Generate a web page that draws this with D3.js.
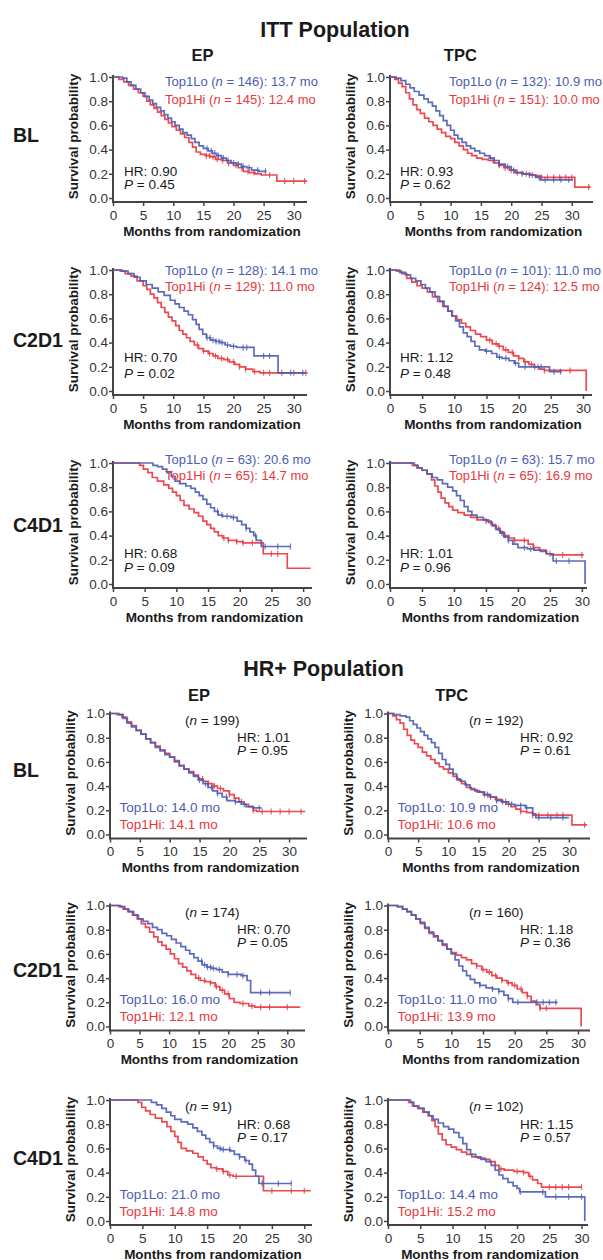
<!DOCTYPE html>
<html>
<head>
<meta charset="utf-8">
<script src="https://cdn.jsdelivr.net/npm/d3@7"></script>
<style>
  body { margin: 0; background: #fff; }
  svg { display: block; font-family: "Liberation Sans", Arial, sans-serif; }
</style>
</head>
<body>
<script>
// ---- labels ----
const populations = ['ITT Population', 'HR+ Population'];
const arms = ['EP', 'TPC'];
const timepoints = ['BL', 'C2D1', 'C4D1'];
const xTicks = [0, 5, 10, 15, 20, 25, 30];
const yTicks = [0, 0.2, 0.4, 0.6, 0.8, 1.0];

// ITT stats, order: BL EP, BL TPC, C2D1 EP, C2D1 TPC, C4D1 EP, C4D1 TPC
const ittLoN = [146, 132, 128, 101, 63, 63];
const ittHiN = [145, 151, 129, 124, 65, 65];
const ittLoMed = ['13.7', '10.9', '14.1', '11.0', '20.6', '15.7'];
const ittHiMed = ['12.4', '10.0', '11.0', '12.5', '14.7', '16.9'];
const ittHR = ['0.90', '0.93', '0.70', '1.12', '0.68', '1.01'];
const ittP = ['0.45', '0.62', '0.02', '0.48', '0.09', '0.96'];

// HR+ stats, same order
const hrN = [199, 192, 174, 160, 91, 102];
const hrLoMed = ['14.0', '10.9', '16.0', '11.0', '21.0', '14.4'];
const hrHiMed = ['14.1', '10.6', '12.1', '13.9', '14.8', '15.2'];
const hrHR = ['1.01', '0.92', '0.70', '1.18', '0.68', '1.15'];
const hrP = ['0.95', '0.61', '0.05', '0.36', '0.17', '0.57'];

// ---- KM curves [month, survival] ----
const ittBlEpLo = [[0,1],[1.6,0.99],[2.3,0.96],[3,0.93],[3.8,0.9],[4.6,0.87],[5.3,0.84],[6,0.81],[6.6,0.78],[7.2,0.75],[7.9,0.72],[8.5,0.69],[9.1,0.66],[9.7,0.63],[10.3,0.6],[11,0.57],[11.6,0.54],[12.3,0.52],[13,0.49],[13.6,0.46],[14.3,0.43],[15,0.41],[15.8,0.39],[16.5,0.37],[17.2,0.35],[18,0.33],[18.8,0.31],[19.6,0.29],[20.5,0.28],[21.3,0.26],[22.2,0.25],[23,0.23],[24.2,0.22],[25.5,0.22]];
const ittBlEpLoCens = [15.6,16.3,16.9,17.5,18.3,19.1,20,20.8,21.6,22.6,24,25.3];
const ittBlEpHi = [[0,1],[1,0.98],[1.8,0.96],[2.6,0.93],[3.4,0.9],[4.2,0.87],[5,0.84],[5.6,0.8],[6.2,0.77],[6.8,0.74],[7.4,0.71],[8,0.68],[8.6,0.65],[9.2,0.62],[9.8,0.59],[10.5,0.56],[11.2,0.53],[11.9,0.5],[12.6,0.46],[13.2,0.42],[13.8,0.38],[14.5,0.36],[15.3,0.35],[16.2,0.34],[17,0.32],[18,0.31],[19,0.29],[20,0.27],[20.8,0.25],[21.6,0.22],[22.6,0.21],[23.6,0.2],[24.6,0.19],[27.2,0.14],[32.2,0.14]];
const ittBlEpHiCens = [15.5,16,16.6,17.3,18.2,19.2,20.4,21.4,22.4,23.4,26,28.5,30,31.8];

const ittBlTpcLo = [[0,1],[1,0.99],[1.8,0.97],[2.6,0.94],[3.3,0.91],[4,0.88],[4.8,0.85],[5.6,0.82],[6.3,0.79],[7,0.76],[7.6,0.72],[8.2,0.68],[8.8,0.64],[9.4,0.6],[10,0.56],[10.6,0.52],[11.2,0.49],[11.9,0.46],[12.6,0.43],[13.3,0.41],[14,0.39],[14.8,0.37],[15.6,0.35],[16.4,0.33],[17.2,0.31],[18,0.28],[19,0.26],[20,0.23],[20.8,0.21],[21.8,0.2],[23,0.19],[24,0.17],[24.8,0.15],[30.2,0.15]];
const ittBlTpcLoCens = [16.6,17.2,18,19.4,20.4,21.8,23,24.6,25.6,27,28.2,29.5];
const ittBlTpcHi = [[0,1],[0.8,0.98],[1.4,0.95],[2,0.92],[2.6,0.87],[3.2,0.82],[3.8,0.77],[4.4,0.73],[5,0.7],[5.7,0.66],[6.4,0.63],[7.1,0.6],[7.8,0.57],[8.5,0.54],[9.2,0.51],[10,0.49],[10.7,0.46],[11.4,0.43],[12.1,0.4],[12.8,0.37],[13.5,0.35],[14.3,0.33],[15.2,0.32],[16.2,0.31],[17.2,0.29],[18,0.27],[18.8,0.25],[19.7,0.23],[20.5,0.21],[22,0.2],[23.2,0.19],[24.2,0.18],[25,0.17],[30.5,0.09],[33.1,0.09]];
const ittBlTpcHiCens = [17,18,19,20,21,22.5,23.5,25,26,27,28,29,30,32.8];

const ittC2EpLo = [[0,1],[1.5,0.99],[2.5,0.97],[3.5,0.94],[4.5,0.91],[5.5,0.88],[6.5,0.85],[7.5,0.82],[8.5,0.79],[9.5,0.75],[10.3,0.72],[11,0.69],[11.8,0.66],[12.5,0.63],[13.2,0.59],[13.8,0.55],[14.3,0.51],[14.9,0.47],[15.5,0.44],[16.2,0.42],[17,0.41],[17.8,0.4],[18.6,0.38],[19.5,0.37],[20.5,0.36],[23.4,0.29],[27.4,0.15],[32,0.15]];
const ittC2EpLoCens = [15.6,16.1,16.6,17.1,17.6,18.1,19,20,21.6,22.2,25,26,29.5,31.5];
const ittC2EpHi = [[0,1],[1.2,0.99],[2,0.97],[3,0.95],[4,0.91],[5,0.87],[5.6,0.84],[6.2,0.8],[6.8,0.77],[7.4,0.73],[8,0.69],[8.6,0.65],[9.2,0.61],[9.8,0.58],[10.4,0.54],[11,0.5],[11.6,0.47],[12.2,0.44],[12.8,0.41],[13.5,0.38],[14.2,0.35],[15,0.33],[15.8,0.31],[16.6,0.29],[17.4,0.27],[18.4,0.26],[19.3,0.24],[20.2,0.22],[21,0.2],[22,0.18],[23.2,0.16],[24.4,0.15],[32.3,0.15]];
const ittC2EpHiCens = [14,15,16,17,18,19,20,21,22,23.5,25,26,28,30,32];

const ittC2TpcLo = [[0,1],[1.5,0.98],[2.4,0.96],[3.2,0.93],[4,0.91],[4.8,0.88],[5.5,0.85],[6.2,0.82],[7,0.78],[7.7,0.74],[8.4,0.7],[9,0.66],[9.6,0.62],[10.2,0.58],[10.8,0.53],[11.4,0.48],[12,0.45],[12.6,0.41],[13.2,0.37],[13.9,0.34],[14.8,0.33],[15.8,0.31],[16.6,0.28],[17.4,0.27],[18.5,0.25],[19.3,0.23],[20,0.2],[24.8,0.16],[26.7,0.16]];
const ittC2TpcLoCens = [15,17,18,19.5,21,22.5,23.5,25.5,26.5];
const ittC2TpcHi = [[0,1],[1,0.99],[1.8,0.97],[2.6,0.93],[3.4,0.9],[4.2,0.87],[5,0.85],[5.8,0.82],[6.6,0.78],[7.4,0.74],[8.2,0.7],[9,0.66],[9.7,0.62],[10.4,0.59],[11.1,0.56],[11.8,0.53],[12.5,0.5],[13.3,0.47],[14.1,0.45],[15,0.42],[15.9,0.39],[16.8,0.37],[17.6,0.34],[18.4,0.32],[19.2,0.29],[20,0.27],[20.8,0.24],[21.6,0.22],[22.4,0.2],[23.2,0.18],[24,0.17],[30.5,0]];
const ittC2TpcHiCens = [15.5,16.5,17,18,19,20,21,22,23,24,28];

const ittC4EpLo = [[0,1],[6.3,0.98],[7,0.97],[7.8,0.95],[8.5,0.92],[9.2,0.89],[9.8,0.85],[10.5,0.83],[11.5,0.81],[12.3,0.79],[13,0.76],[13.6,0.73],[14.2,0.7],[14.8,0.66],[15.4,0.63],[16,0.6],[16.6,0.57],[17.3,0.56],[18.6,0.55],[19.6,0.52],[20.3,0.49],[21,0.46],[21.6,0.43],[22.2,0.4],[22.6,0.36],[23.4,0.31],[28,0.31]];
const ittC4EpLoCens = [16.5,17.2,18,19,21,22.5,24,26,28];
const ittC4EpHi = [[0,1],[4.2,0.98],[4.8,0.95],[5.5,0.92],[6.2,0.88],[7,0.85],[8,0.82],[8.8,0.79],[9.4,0.76],[10,0.73],[10.6,0.69],[11.2,0.65],[12,0.62],[12.8,0.59],[13.5,0.56],[14.2,0.52],[14.8,0.49],[15.4,0.46],[16,0.43],[16.6,0.4],[17.3,0.38],[18.2,0.36],[19.5,0.35],[20.5,0.34],[23.7,0.25],[27.5,0.13],[31.2,0.13]];
const ittC4EpHiCens = [17.5,18.2,19.5,20.5,22,25,26];

const ittC4TpcLo = [[0,1],[3.8,0.98],[4.4,0.96],[5,0.94],[5.8,0.91],[6.6,0.88],[7.4,0.86],[8.2,0.83],[9,0.8],[9.8,0.77],[10.4,0.73],[11,0.69],[11.6,0.64],[12.2,0.6],[12.8,0.57],[13.6,0.55],[14.6,0.53],[15.4,0.51],[16,0.48],[16.6,0.45],[17.2,0.42],[17.8,0.39],[18.5,0.36],[19.2,0.33],[20,0.3],[21.5,0.29],[22.5,0.28],[23.5,0.27],[24.5,0.25],[25.5,0.19],[30.5,0]];
const ittC4TpcLoCens = [17.5,18.5,21,22,26,28];
const ittC4TpcHi = [[0,1],[3.5,0.98],[4.2,0.96],[5,0.94],[5.8,0.91],[6.5,0.86],[7,0.81],[7.5,0.76],[8,0.71],[8.6,0.67],[9.2,0.64],[9.8,0.61],[10.6,0.59],[11.6,0.57],[12.6,0.55],[13.6,0.53],[15,0.52],[15.8,0.49],[16.5,0.46],[17.2,0.43],[17.8,0.4],[18.6,0.38],[19.4,0.36],[21.6,0.33],[22.4,0.3],[23.4,0.28],[24.4,0.25],[25.2,0.24],[30.3,0.24]];
const ittC4TpcHiCens = [15,17,18,19.5,21,22.5,25,27,30];

const hrBlEpLo = [[0,1],[1.5,0.99],[2.2,0.96],[2.9,0.92],[3.6,0.89],[4.4,0.86],[5.2,0.83],[6,0.79],[6.8,0.76],[7.6,0.72],[8.4,0.69],[9.2,0.66],[10,0.64],[10.8,0.61],[11.6,0.57],[12.4,0.54],[13.2,0.51],[14,0.48],[14.8,0.45],[15.6,0.42],[16.4,0.39],[17.2,0.36],[18,0.34],[18.8,0.31],[19.6,0.28],[21,0.27],[22,0.25],[22.8,0.23],[24,0.22],[25.4,0.22]];
const hrBlEpLoCens = [15,16,17,18,19.5,21,22.5,25];
const hrBlEpHi = [[0,1],[1.2,0.99],[2,0.97],[2.8,0.93],[3.6,0.9],[4.4,0.86],[5.2,0.83],[6,0.79],[6.8,0.76],[7.6,0.73],[8.4,0.7],[9.2,0.67],[10,0.64],[10.8,0.6],[11.6,0.57],[12.4,0.54],[13.2,0.52],[14,0.49],[14.8,0.46],[15.6,0.44],[16.4,0.42],[17.2,0.4],[18,0.38],[19,0.36],[20,0.33],[20.8,0.3],[21.6,0.27],[22.4,0.25],[23.2,0.23],[24,0.2],[24.6,0.19],[32.7,0.19]];
const hrBlEpHiCens = [15.5,16.5,17.5,18.5,20,22,24,25.5,27,28.5,30,32];

const hrBlTpcLo = [[0,1],[1,0.99],[2,0.98],[3,0.97],[3.6,0.94],[4.2,0.91],[4.8,0.88],[5.4,0.85],[6,0.82],[6.6,0.79],[7.2,0.76],[7.8,0.72],[8.4,0.67],[9,0.62],[9.6,0.58],[10.2,0.54],[10.8,0.5],[11.4,0.46],[12,0.44],[12.8,0.41],[13.6,0.38],[14.4,0.36],[15.2,0.35],[16,0.33],[17,0.31],[18,0.28],[19,0.27],[20,0.25],[21,0.24],[22.8,0.22],[24,0.17],[24.5,0.14],[30,0.14]];
const hrBlTpcLoCens = [16.5,18,19.5,20.5,22,23,25,27,29];
const hrBlTpcHi = [[0,1],[0.8,0.98],[1.4,0.95],[2,0.92],[2.6,0.87],[3.2,0.82],[3.8,0.78],[4.4,0.75],[5,0.72],[5.7,0.68],[6.4,0.65],[7.1,0.62],[7.8,0.59],[8.5,0.56],[9.2,0.54],[10,0.51],[10.8,0.48],[11.5,0.45],[12.2,0.42],[13,0.39],[13.8,0.37],[14.8,0.35],[15.8,0.33],[16.8,0.31],[17.8,0.29],[18.8,0.27],[19.6,0.25],[20.4,0.23],[21.2,0.21],[22,0.19],[23,0.18],[24,0.16],[30.5,0.08],[33,0.08]];
const hrBlTpcHiCens = [16,17,18,19,20,22,24,25,26.5,28,29,32.6];

const hrC2EpLo = [[0,1],[1.8,0.99],[2.5,0.97],[3.2,0.95],[4,0.92],[4.8,0.89],[5.6,0.87],[6.4,0.85],[7.2,0.82],[8,0.8],[8.8,0.77],[9.6,0.75],[10.4,0.72],[11.2,0.69],[12,0.66],[12.8,0.63],[13.5,0.6],[14.2,0.57],[14.9,0.54],[15.6,0.51],[16.4,0.49],[17.2,0.48],[18,0.47],[19,0.45],[20,0.43],[22.2,0.42],[23.2,0.38],[23.8,0.28],[30.5,0.28]];
const hrC2EpLoCens = [15.5,16,16.5,17,17.5,18.5,20,21.5,22.5,25.5,27,30.5];
const hrC2EpHi = [[0,1],[1.5,0.99],[2.2,0.97],[3,0.95],[3.8,0.92],[4.6,0.89],[5.3,0.85],[6,0.82],[6.7,0.78],[7.4,0.74],[8.1,0.7],[8.8,0.67],[9.5,0.64],[10.2,0.6],[10.9,0.56],[11.6,0.52],[12.3,0.49],[13,0.46],[13.7,0.43],[14.5,0.4],[15.3,0.38],[16.2,0.37],[17,0.36],[17.8,0.33],[18.6,0.3],[19.4,0.27],[20.2,0.23],[21,0.2],[22,0.19],[23.5,0.17],[24.5,0.16],[32.2,0.16]];
const hrC2EpHiCens = [15,16,17,18,19,20,22.5,24,25.5,27,30];

const hrC2TpcLo = [[0,1],[1.5,0.99],[2.3,0.97],[3,0.95],[3.7,0.92],[4.4,0.89],[5.1,0.86],[5.8,0.82],[6.5,0.78],[7.2,0.75],[7.9,0.71],[8.6,0.68],[9.3,0.64],[10,0.6],[10.6,0.55],[11.2,0.5],[11.8,0.46],[12.4,0.42],[13,0.39],[13.7,0.36],[14.5,0.34],[15.5,0.32],[16.5,0.31],[17.5,0.29],[18.3,0.26],[19,0.23],[19.7,0.2],[26.8,0.2]];
const hrC2TpcLoCens = [14.5,16.5,17.5,19,20.5,23.5,24.5,25.5,26.5];
const hrC2TpcHi = [[0,1],[1.5,0.99],[2.3,0.97],[3,0.95],[3.7,0.92],[4.4,0.89],[5.1,0.85],[5.8,0.81],[6.5,0.77],[7.2,0.74],[7.9,0.71],[8.6,0.67],[9.3,0.64],[10,0.61],[10.8,0.59],[11.6,0.57],[12.4,0.55],[13.2,0.52],[14,0.5],[14.8,0.47],[15.6,0.45],[16.4,0.42],[17.2,0.4],[18,0.38],[18.8,0.36],[19.6,0.34],[20.4,0.31],[21.2,0.28],[22,0.25],[22.6,0.21],[23.4,0.18],[24,0.15],[30.5,0]];
const hrC2TpcHiCens = [14,15,16,17,18,19,20,21,22,24,25];

const hrC4EpLo = [[0,1],[6.4,0.98],[7.2,0.96],[8,0.93],[8.7,0.9],[9.4,0.87],[10,0.84],[11,0.82],[12,0.8],[12.8,0.77],[13.5,0.74],[14.2,0.71],[14.8,0.68],[15.4,0.65],[16,0.62],[16.6,0.6],[17.2,0.59],[18.6,0.58],[19.2,0.55],[20,0.53],[20.8,0.5],[21.5,0.47],[22,0.42],[22.5,0.37],[23,0.31],[28,0.31]];
const hrC4EpLoCens = [16,17,17.5,18.5,20,21,23.5,26,28];
const hrC4EpHi = [[0,1],[4.3,0.98],[4.9,0.94],[5.5,0.91],[6.2,0.88],[7,0.85],[8,0.82],[8.8,0.78],[9.4,0.74],[10,0.7],[10.5,0.65],[11,0.6],[11.8,0.58],[12.8,0.56],[13.6,0.53],[14.4,0.5],[15,0.47],[15.6,0.44],[16.4,0.43],[17.4,0.41],[18.2,0.38],[19,0.37],[23.7,0.25],[31,0.25]];
const hrC4EpHiCens = [16.5,17.5,18.5,19.5,25,28,30];

const hrC4TpcLo = [[0,1],[3.5,0.98],[4,0.95],[4.8,0.93],[5.6,0.9],[6.4,0.87],[7,0.84],[7.8,0.81],[8.6,0.78],[9.4,0.76],[10.2,0.73],[11,0.69],[11.6,0.64],[12.2,0.59],[12.8,0.55],[13.6,0.53],[14.4,0.51],[15.2,0.49],[16,0.46],[16.6,0.42],[17.2,0.38],[17.8,0.35],[18.6,0.32],[19.4,0.29],[20,0.27],[20.4,0.24],[24.4,0.2],[30.5,0]];
const hrC4TpcLoCens = [20.5,24,26,28,30];
const hrC4TpcHi = [[0,1],[3.2,0.98],[3.8,0.95],[4.6,0.93],[5.4,0.9],[6.2,0.87],[6.8,0.83],[7.3,0.78],[7.8,0.72],[8.4,0.67],[9,0.63],[9.8,0.61],[10.6,0.59],[11.4,0.57],[12.2,0.55],[13,0.53],[14,0.52],[15,0.51],[15.8,0.49],[16.6,0.46],[17.2,0.43],[18,0.42],[19.5,0.41],[21,0.4],[21.8,0.37],[22.4,0.34],[23.2,0.31],[23.8,0.28],[30,0.28]];
const hrC4TpcHiCens = [17.5,20,21,22,25,26,27,28,30];

// ---- layout (pixel positions only) ----
const width = 603, height = 1260;
const BLUE = '#4a5cb4', RED = '#e9373d', AXIS = '#444', INK = '#1a1a1a';
const plotH = 121;
const rowTop = [77, 270, 463, 713.5, 905.5, 1100];
const rowLabelY = [135, 340, 525, 770, 970, 1158];
const colLeft = [[113, 390], [110, 388]];
const plotW = [194, 203, 194, 202, 199, 197, 197, 202, 195, 202, 202, 200];
const xMax = [32.2, 33.5, 32.2, 31.4, 31.4, 30.8, 33, 33.5, 33, 31.9, 31.2, 31];
// ITT text offsets per row: legend lines from top, HR/P from bottom
const ittLegDy = [[4, 22], [0, 16], [-4, 12.5]];
const ittStatDy = [[-27, -14], [-34, -18], [-31, -17]];

const curvesLo = [ittBlEpLo, ittBlTpcLo, ittC2EpLo, ittC2TpcLo, ittC4EpLo, ittC4TpcLo,
  hrBlEpLo, hrBlTpcLo, hrC2EpLo, hrC2TpcLo, hrC4EpLo, hrC4TpcLo];
const curvesHi = [ittBlEpHi, ittBlTpcHi, ittC2EpHi, ittC2TpcHi, ittC4EpHi, ittC4TpcHi,
  hrBlEpHi, hrBlTpcHi, hrC2EpHi, hrC2TpcHi, hrC4EpHi, hrC4TpcHi];
const censLo = [ittBlEpLoCens, ittBlTpcLoCens, ittC2EpLoCens, ittC2TpcLoCens, ittC4EpLoCens, ittC4TpcLoCens,
  hrBlEpLoCens, hrBlTpcLoCens, hrC2EpLoCens, hrC2TpcLoCens, hrC4EpLoCens, hrC4TpcLoCens];
const censHi = [ittBlEpHiCens, ittBlTpcHiCens, ittC2EpHiCens, ittC2TpcHiCens, ittC4EpHiCens, ittC4TpcHiCens,
  hrBlEpHiCens, hrBlTpcHiCens, hrC2EpHiCens, hrC2TpcHiCens, hrC4EpHiCens, hrC4TpcHiCens];

const svg = d3.select('body').append('svg')
  .attr('width', width)
  .attr('height', height);

// survival value of a step curve at time t
function survAt(curve, t) {
  let s = 1;
  for (const [tt, ss] of curve) {
    if (tt <= t) s = ss; else break;
  }
  return s;
}

// headings
[[335, 36.5], [323.5, 676]].forEach(([cx, by], i) => {
  svg.append('text').attr('x', cx).attr('y', by)
    .attr('text-anchor', 'middle').attr('font-size', 21.5).attr('font-weight', 'bold')
    .attr('fill', INK).text(populations[i]);
});
[[202.5, 61], [460.3, 61], [199, 701], [451.7, 701]].forEach(([cx, by], i) => {
  svg.append('text').attr('x', cx).attr('y', by)
    .attr('text-anchor', 'middle').attr('font-size', 16.5).attr('font-weight', 'bold')
    .attr('fill', INK).text(arms[i % 2]);
});
rowLabelY.forEach((cy, r) => {
  svg.append('text').attr('x', 13).attr('y', cy + 7)
    .attr('font-size', 19.5).attr('font-weight', 'bold')
    .attr('fill', INK).text(timepoints[r % 3]);
});

const line = d3.line().curve(d3.curveStepAfter);

for (let i = 0; i < 12; i++) {
  const pop = i < 6 ? 0 : 1;
  const row = Math.floor(i / 2);
  const col = i % 2;
  const k = i % 6;
  const left = colLeft[pop][col];
  const top = rowTop[row];
  const x = d3.scaleLinear().domain([0, xMax[i]]).range([left, left + plotW[i]]);
  const y = d3.scaleLinear().domain([0, 1]).range([top + plotH, top]);
  const axisY = y(0) + 4;
  const g = svg.append('g');

  // x axis
  const gx = g.append('g').attr('transform', `translate(0,${axisY})`)
    .call(d3.axisBottom(x).tickValues(xTicks.filter(v => v <= xMax[i]))
      .tickSize(4).tickPadding(4).tickSizeOuter(0));
  gx.select('.domain').remove();
  gx.selectAll('.tick line').attr('stroke', AXIS).attr('stroke-width', 1.5);
  gx.selectAll('.tick text').attr('font-size', 13.5).attr('fill', '#333')
    .attr('font-family', '"Liberation Sans", Arial, sans-serif');
  g.append('line').attr('x1', left).attr('x2', left + plotW[i])
    .attr('y1', axisY).attr('y2', axisY)
    .attr('stroke', AXIS).attr('stroke-width', 2);

  // y axis
  const gy = g.append('g').attr('transform', `translate(${left},0)`)
    .call(d3.axisLeft(y).tickValues(yTicks).tickFormat(d3.format('.1f'))
      .tickSize(4).tickPadding(1).tickSizeOuter(0));
  gy.select('.domain').remove();
  gy.selectAll('.tick line').attr('stroke', AXIS).attr('stroke-width', 1.5);
  gy.selectAll('.tick text').attr('font-size', 13.5).attr('fill', '#333')
    .attr('font-family', '"Liberation Sans", Arial, sans-serif');
  g.append('line').attr('x1', left).attr('x2', left)
    .attr('y1', y(1) - 2).attr('y2', axisY + 1)
    .attr('stroke', AXIS).attr('stroke-width', 2);

  // axis titles
  g.append('text').attr('x', left + plotW[i] / 2 + 2).attr('y', axisY + 33.5)
    .attr('text-anchor', 'middle').attr('font-size', 13.5).attr('font-weight', 'bold')
    .attr('fill', INK).text('Months from randomization');
  g.append('text')
    .attr('transform', `translate(${left - 35},${(y(0) + y(1)) / 2 - 1}) rotate(-90)`)
    .attr('text-anchor', 'middle').attr('font-size', 13.5).attr('font-weight', 'bold')
    .attr('fill', INK).text('Survival probability');

  // curves: Hi first, Lo on top
  [[curvesHi[i], censHi[i], RED], [curvesLo[i], censLo[i], BLUE]].forEach(([c, cens, color]) => {
    g.append('path')
      .attr('d', line(c.map(d => [x(d[0]), y(d[1])])))
      .attr('fill', 'none').attr('stroke', color)
      .attr('stroke-width', 1.7).attr('stroke-opacity', 0.9);
    g.selectAll(null).data(cens).enter().append('line')
      .attr('x1', t => x(t)).attr('x2', t => x(t))
      .attr('y1', t => y(survAt(c, t)) - 3).attr('y2', t => y(survAt(c, t)) + 3)
      .attr('stroke', color).attr('stroke-width', 1.2).attr('stroke-opacity', 0.8);
  });

  // annotations
  if (pop === 0) {
    const lx = col === 0 ? 165 : 449;
    const dy = ittLegDy[row % 3];
    const leg = [[ittLoN[k], ittLoMed[k], 'Top1Lo', BLUE], [ittHiN[k], ittHiMed[k], 'Top1Hi', RED]];
    leg.forEach(([n, med, name, color], j) => {
      const t = g.append('text').attr('x', lx).attr('y', top + dy[j] + 4.7)
        .attr('font-size', 13).attr('fill', color);
      t.append('tspan').text(name + ' (');
      t.append('tspan').attr('font-style', 'italic').text('n');
      t.append('tspan').text(` = ${n}): ${med} mo`);
    });
    const sd = ittStatDy[row % 3];
    const sx = left + (col === 0 ? 11 : 10);
    g.append('text').attr('x', sx).attr('y', y(0) + sd[0] + 4.7)
      .attr('font-size', 13.5).attr('fill', INK).text(`HR: ${ittHR[k]}`);
    const pt = g.append('text').attr('x', sx).attr('y', y(0) + sd[1] + 4.7)
      .attr('font-size', 13.5).attr('fill', INK);
    pt.append('tspan').attr('font-style', 'italic').text('P');
    pt.append('tspan').text(` = ${ittP[k]}`);
  } else {
    const nt = g.append('text').attr('x', left + (col === 0 ? 75 : 81)).attr('y', top + 6.5 + 4.7)
      .attr('font-size', 13.5).attr('fill', INK);
    nt.append('tspan').text('(');
    nt.append('tspan').attr('font-style', 'italic').text('n');
    nt.append('tspan').text(` = ${hrN[k]})`);
    const hx = left + (col === 0 ? 127 : 132);
    g.append('text').attr('x', hx).attr('y', top + 24 + 4.7)
      .attr('font-size', 13.5).attr('fill', INK).text(`HR: ${hrHR[k]}`);
    const pt = g.append('text').attr('x', hx).attr('y', top + 37 + 4.7)
      .attr('font-size', 13.5).attr('fill', INK);
    pt.append('tspan').attr('font-style', 'italic').text('P');
    pt.append('tspan').text(` = ${hrP[k]}`);
    const lx = left + 9.5;
    g.append('text').attr('x', lx).attr('y', y(0) - 27 + 4.7)
      .attr('font-size', 13.5).attr('fill', BLUE).text(`Top1Lo: ${hrLoMed[k]} mo`);
    g.append('text').attr('x', lx).attr('y', y(0) - 10 + 4.7)
      .attr('font-size', 13.5).attr('fill', RED).text(`Top1Hi: ${hrHiMed[k]} mo`);
  }
}
</script>
</body>
</html>
